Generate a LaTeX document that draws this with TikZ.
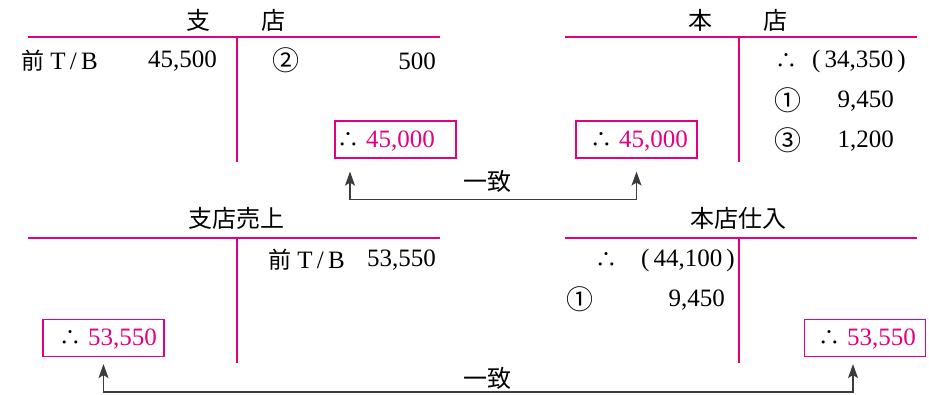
\documentclass[tikz,border=0pt]{standalone}
\usepackage{fontspec}
\setmainfont{Liberation Serif}
\newfontfamily\jp{Noto Sans CJK JP}
\usetikzlibrary{arrows.meta}
\definecolor{mag}{HTML}{E4007F}
\definecolor{arrgray}{HTML}{3C3C3C}
\begin{document}
\begin{tikzpicture}[x=1pt,y=-1pt,
  tx/.style={inner sep=0pt, font=\fontsize{25}{25}\selectfont},
  jt/.style={inner sep=0pt, font=\jp\fontsize{22}{22}\selectfont},
  ht/.style={inner sep=0pt, font=\jp\fontsize{24}{24}\selectfont},
  ct/.style={inner sep=0pt, font=\jp\fontsize{27}{27}\selectfont},
  tline/.style={draw=mag, line width=1.3pt},
  accbox/.style={draw=mag, line width=1.2pt, minimum width=121pt, minimum height=37pt, inner sep=0pt},
  arr/.style={draw=arrgray, line width=1.3pt, {Stealth[length=14pt,width=10pt,inset=3pt]}-{Stealth[length=14pt,width=10pt,inset=3pt]}},
  ]
\useasboundingbox (0,0) rectangle (929,395);

% ---- top left: 支店
\node[ht] (t1) at (236,20) {支\hspace{51pt}店};
\draw[tline] (28,37) coordinate (h1a) -- (440,37) coordinate (h1b);
\draw[tline] (237,37) coordinate (v1a) -- (237,162) coordinate (v1b);
\node[tx, anchor=west] (r1a) at (21,61) {{\jp\fontsize{23}{23}\selectfont 前} T\,/\,B};
\node[tx, anchor=east] (r1b) at (217,61) {45,500};
\node[ct] (r1c) at (286,60) {②};
\node[tx, anchor=east] (r1d) at (436,61) {500};
\node[accbox] (b1) at (395.5,139.5) {};
\node[tx, anchor=east] (b1t) at (435,141) {{\jp\fontsize{22}{22}\selectfont ∴}\ \textcolor{mag}{45,000}};

% ---- top right: 本店
\node[ht] (t2) at (738,20) {本\hspace{51pt}店};
\draw[tline] (565,37) coordinate (h2a) -- (917,37) coordinate (h2b);
\draw[tline] (739,37) coordinate (v2a) -- (739,162) coordinate (v2b);
\node[jt] (r2a) at (786,61) {∴};
\node[tx, anchor=east] (r2b) at (906,61) {(\,34,350\,)};
\node[ct] (r2c) at (788,100) {①};
\node[tx, anchor=east] (r2d) at (894,101) {9,450};
\node[ct] (r2e) at (788,140) {③};
\node[tx, anchor=east] (r2f) at (894,141) {1,200};
\node[accbox] (b2) at (636.5,139.5) {};
\node[tx, anchor=east] (b2t) at (688,141) {{\jp\fontsize{22}{22}\selectfont ∴}\ \textcolor{mag}{45,000}};

% top connector
\draw[arr] ([xshift=-45.5pt,yshift=-13pt]b1.south) -- ++(0,28) -| ([yshift=-13pt]b2.south);
\node[ht] (k1) at (487,181) {一致};

% ---- bottom left: 支店売上
\node[ht] (t3) at (236,218) {支店売上};
\draw[tline] (28,238) coordinate (h3a) -- (440,238) coordinate (h3b);
\draw[tline] (237,238) coordinate (v3a) -- (237,363) coordinate (v3b);
\node[tx, anchor=west] (r3a) at (268,260) {{\jp\fontsize{23}{23}\selectfont 前} T\,/\,B};
\node[tx, anchor=east] (r3b) at (436,260) {53,550};
\node[accbox] (b3) at (103.5,338) {};
\node[tx, anchor=east] (b3t) at (157,339) {{\jp\fontsize{22}{22}\selectfont ∴}\ \textcolor{mag}{53,550}};

% ---- bottom right: 本店仕入
\node[ht] (t4) at (738,218) {本店仕入};
\draw[tline] (565,238) coordinate (h4a) -- (917,238) coordinate (h4b);
\draw[tline] (739,238) coordinate (v4a) -- (739,363) coordinate (v4b);
\node[jt] (r4a) at (606,260) {∴};
\node[tx, anchor=east] (r4b) at (735,260) {(\,44,100\,)};
\node[ct] (r4c) at (580,299) {①};
\node[tx, anchor=east] (r4d) at (725,300) {9,450};
\node[accbox] (b4) at (865,338) {};
\node[tx, anchor=east] (b4t) at (916,339) {{\jp\fontsize{22}{22}\selectfont ∴}\ \textcolor{mag}{53,550}};

% bottom connector
\draw[arr] ([yshift=-7pt]b3.south) -- ++(0,28) -| ([xshift=-12pt,yshift=-7pt]b4.south);
\node[ht] (k2) at (487,378) {一致};
\end{tikzpicture}
\end{document}
